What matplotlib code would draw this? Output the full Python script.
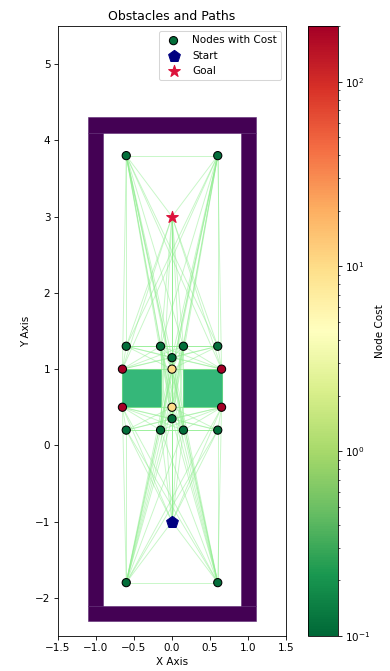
import numpy as np
import matplotlib
matplotlib.use('Agg')
import matplotlib.pyplot as plt
from matplotlib.colors import LogNorm
from matplotlib.patches import Rectangle

# Node positions and their costs
node_x = [-0.6, 0.6, -0.6, -0.15, 0.15, 0.6, 0.0, -0.65, 0.65, 0.0, 0.0, -0.65, 0.65, 0.0,
          -0.6, -0.15, 0.15, 0.6, -0.6, 0.6]
node_y = [3.8, 3.8, 1.3, 1.3, 1.3, 1.3, 1.15, 1.0, 1.0, 1.0, 0.5, 0.5, 0.5, 0.35,
          0.2, 0.2, 0.2, 0.2, -1.8, -1.8]
node_cost = [0.11, 0.11, 0.11, 0.11, 0.11, 0.11, 0.11, 200, 200, 10, 10, 200, 200, 0.11,
             0.11, 0.11, 0.11, 0.11, 0.11, 0.11]

start = (0.0, -1.0)
goal = (0.0, 3.0)

# Obstacles: (x, y, width, height)
walls = [(-1.1, -2.3, 2.2, 0.2), (-1.1, 4.1, 2.2, 0.2), (-1.1, -2.1, 0.2, 6.2), (0.9, -2.1, 0.2, 6.2)]
boxes = [(-0.65, 0.5, 0.5, 0.5), (0.15, 0.5, 0.5, 0.5)]


def blocked(p, q):
    # check whether the segment p-q passes through the inside of any box
    t = np.linspace(0, 1, 200)
    xs = p[0] + (q[0] - p[0]) * t
    ys = p[1] + (q[1] - p[1]) * t
    for bx, by, bw, bh in boxes:
        eps = 1e-3
        inside = (xs > bx + eps) & (xs < bx + bw - eps) & (ys > by + eps) & (ys < by + bh - eps)
        if inside.any():
            return True
    return False


all_x = node_x + [start[0], goal[0]]
all_y = node_y + [start[1], goal[1]]
pts = list(zip(all_x, all_y))

fig = plt.figure(figsize=(391 / 75, 671 / 75), dpi=75)
ax = fig.add_axes([57 / 391, 35 / 671, 230 / 391, 610 / 671])
cax = fig.add_axes([308 / 391, 35 / 671, 30 / 391, 610 / 671])

for r in walls:
    ax.add_patch(Rectangle(r[:2], r[2], r[3], facecolor='#440154', edgecolor='#5a2470', lw=0.5, zorder=1))
for r in boxes:
    ax.add_patch(Rectangle(r[:2], r[2], r[3], facecolor='#35b779', edgecolor='#35b779', zorder=1))

for i in range(len(pts)):
    for j in range(i + 1, len(pts)):
        if not blocked(pts[i], pts[j]):
            ax.plot([pts[i][0], pts[j][0]], [pts[i][1], pts[j][1]], color='lightgreen', alpha=0.5, lw=0.9, zorder=2)

sc = ax.scatter(node_x, node_y, c=node_cost, cmap='RdYlGn_r', norm=LogNorm(vmin=0.1, vmax=200),
                s=62, edgecolors='black', zorder=3, label='Nodes with Cost')
ax.scatter(*start, color='navy', marker='p', s=140, zorder=4, label='Start')
ax.scatter(*goal, color='crimson', marker='*', s=140, zorder=4, label='Goal')

ax.set_xlim(-1.5, 1.5)
ax.set_ylim(-2.5, 5.5)
ax.set_aspect('equal')
ax.set_title('Obstacles and Paths')
ax.set_xlabel('X Axis')
ax.set_ylabel('Y Axis')
ax.legend(loc='upper right')

cb = fig.colorbar(sc, cax=cax)
cb.set_label('Node Cost')

fig.savefig('out.png', dpi=75)
